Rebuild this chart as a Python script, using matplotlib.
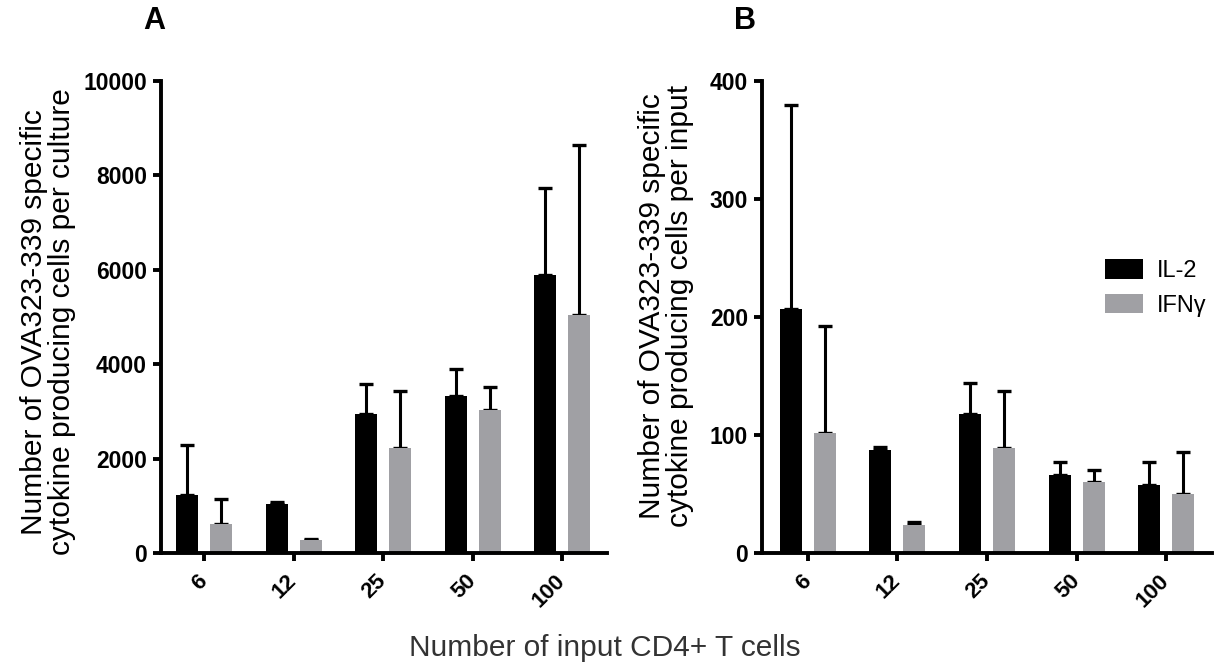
import matplotlib
matplotlib.use("Agg")
import matplotlib.pyplot as plt
import matplotlib.transforms as mtransforms
import numpy as np

plt.rcParams['font.family'] = ['Liberation Sans', 'DejaVu Sans']

categories = ["6", "12", "25", "50", "100"]
series = ["IL-2", "IFNγ"]

a_il2 = [1230, 1040, 2945, 3320, 5890]
a_il2_err = [1050, 40, 640, 580, 1850]
a_ifn = [605, 265, 2225, 3035, 5045]
a_ifn_err = [545, 40, 1200, 480, 3600]

b_il2 = [207, 87, 118, 66, 58]
b_il2_err = [173, 3, 26, 11.5, 19]
b_ifn = [102, 23.4, 89, 60, 50]
b_ifn_err = [90, 2.7, 48, 10.3, 36]

col_il2 = "#000000"
col_ifn = "#a0a0a4"

W, H = 1221, 667
fig = plt.figure(figsize=(W/100, H/100), dpi=100)

def ax_rect(l, r, t, b):
    return [l/W, 1-b/H, (r-l)/W, (b-t)/H]

axA = fig.add_axes(ax_rect(161, 607, 81, 553))
axB = fig.add_axes(ax_rect(762, 1212, 81, 553))

x = np.arange(len(categories))
bw = 0.245
off = 0.19

def draw(ax, il2, il2e, ifn, ifne, ymax, ticks, xlim, ylabel):
    b1 = ax.bar(x - off, il2, bw, color=col_il2, label=series[0], zorder=2)
    b2 = ax.bar(x + off, ifn, bw, color=col_ifn, label=series[1], zorder=2)
    ax.errorbar(x - off, il2, yerr=[np.zeros(len(il2)), il2e], fmt='none',
                ecolor='black', elinewidth=2.2, capsize=5, capthick=2.4, zorder=1)
    ax.errorbar(x + off, ifn, yerr=[np.zeros(len(ifn)), ifne], fmt='none',
                ecolor='black', elinewidth=2.2, capsize=5, capthick=2.4, zorder=1)
    ax.set_ylim(0, ymax)
    ax.set_xlim(*xlim)
    ax.set_yticks(ticks)
    ax.set_yticklabels([str(t) for t in ticks], fontsize=16.5, fontweight='bold')
    ax.set_xticks(x)
    ax.set_xticklabels(categories, fontsize=16, fontweight='bold', rotation=45,
                       ha='right', va='center', rotation_mode='anchor')
    shift = mtransforms.ScaledTranslation(6/100, 0, fig.dpi_scale_trans)
    for lab in ax.get_xticklabels():
        lab.set_transform(lab.get_transform() + shift)
    for s in ['top', 'right']:
        ax.spines[s].set_visible(False)
    for s in ['left', 'bottom']:
        ax.spines[s].set_linewidth(2.8)
    ax.tick_params(axis='both', width=2.8, length=6, direction='out')
    ax.tick_params(axis='x', pad=12)
    ax.tick_params(axis='y', pad=4)
    ax.set_ylabel(ylabel, fontsize=21.5, linespacing=1.0)
    ax.yaxis.label.set_verticalalignment('center')
    return b1, b2

draw(axA, a_il2, a_il2_err, a_ifn, a_ifn_err, 10000,
     [0, 2000, 4000, 6000, 8000, 10000], (-0.48, 4.5),
     "Number of OVA323-339 specific\ncytokine producing cells per culture")
draw(axB, b_il2, b_il2_err, b_ifn, b_ifn_err, 400,
     [0, 100, 200, 300, 400], (-0.51, 4.51),
     "Number of OVA323-339 specific\ncytokine producing cells per input")
axA.yaxis.set_label_coords(48/W, 1-322/H, transform=fig.transFigure)
axB.yaxis.set_label_coords(666/W, 1-306/H, transform=fig.transFigure)

axB.legend(loc='upper left', bbox_to_anchor=(1105/W, 1-259/H),
           bbox_transform=fig.transFigure, frameon=False, borderpad=0,
           borderaxespad=0, fontsize=17, handlelength=1.6, handleheight=0.9,
           labelspacing=0.5, handletextpad=0.6)

fig.text(154/W, 1-21/H, "A", fontsize=22, fontweight='bold', ha='center', va='center')
fig.text(745/W, 1-21/H, "B", fontsize=22, fontweight='bold', ha='center', va='center')
fig.text(605/W, 1-648/H, "Number of input CD4+ T cells", fontsize=21.5,
         color='#333333', ha='center', va='center')

fig.savefig("out.png", dpi=100, facecolor='white')
